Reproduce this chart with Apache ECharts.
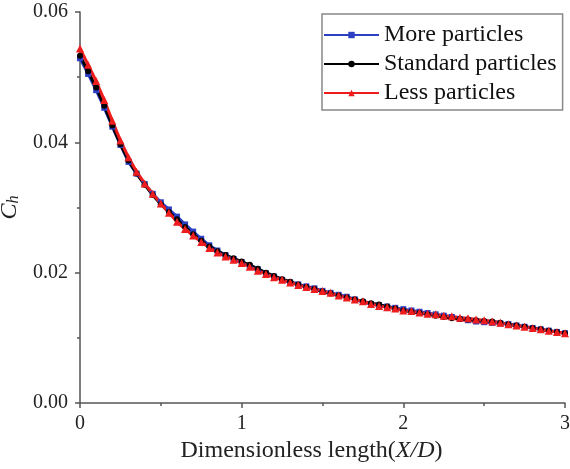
<!DOCTYPE html>
<html><head><meta charset="utf-8">
<script src="https://cdn.jsdelivr.net/npm/echarts@6/dist/echarts.min.js"></script>
<style>html,body{margin:0;padding:0;background:#fff}#c{width:570px;height:469px}</style>
</head><body><div id="c"></div>
<script>
const xs = [0.00,0.05,0.10,0.15,0.20,0.25,0.30,0.35,0.40,0.45,0.50,0.55,0.60,0.65,0.70,0.75,0.80,0.85,0.90,0.95,
1.00,1.05,1.10,1.15,1.20,1.25,1.30,1.35,1.40,1.45,1.50,1.55,1.60,1.65,1.70,1.75,1.80,1.85,1.90,1.95,
2.00,2.05,2.10,2.15,2.20,2.25,2.30,2.35,2.40,2.45,2.50,2.55,2.60,2.65,2.70,2.75,2.80,2.85,2.90,2.95,3.00];
const moreParticles = [0.0529,0.0505,0.0480,0.0453,0.0424,0.0396,0.0370,0.0352,0.0336,0.0321,0.0308,0.0297,0.0286,0.0274,0.0263,0.0252,0.0242,0.0234,0.0227,0.0221,
0.0216,0.0210,0.0205,0.0199,0.0194,0.0189,0.0185,0.0182,0.0179,0.0176,0.0172,0.0169,0.0166,0.0163,0.0159,0.0155,0.0152,0.0150,0.0148,0.0146,
0.0144,0.0142,0.0140,0.0138,0.0136,0.0134,0.0132,0.0129,0.0127,0.0125,0.0124,0.0123,0.0122,0.0121,0.0119,0.0117,0.0115,0.0113,0.0111,0.0109,0.0107];
const standardParticles = [0.0533,0.0509,0.0484,0.0456,0.0426,0.0397,0.0372,0.0352,0.0335,0.0319,0.0305,0.0293,0.0282,0.0270,0.0259,0.0249,0.0240,0.0233,0.0227,0.0222,
0.0217,0.0212,0.0206,0.0200,0.0195,0.0190,0.0186,0.0182,0.0178,0.0175,0.0171,0.0168,0.0165,0.0162,0.0159,0.0156,0.0153,0.0151,0.0148,0.0145,
0.0142,0.0140,0.0138,0.0136,0.0134,0.0132,0.0130,0.0129,0.0128,0.0127,0.0126,0.0125,0.0123,0.0121,0.0119,0.0117,0.0115,0.0113,0.0111,0.0109,0.0107];
const lessParticles = [0.0544,0.0519,0.0494,0.0465,0.0433,0.0403,0.0377,0.0355,0.0337,0.0321,0.0306,0.0292,0.0278,0.0267,0.0257,0.0247,0.0238,0.0231,0.0225,0.0220,
0.0215,0.0209,0.0203,0.0198,0.0193,0.0189,0.0185,0.0181,0.0178,0.0175,0.0172,0.0169,0.0165,0.0162,0.0159,0.0156,0.0152,0.0149,0.0147,0.0145,
0.0142,0.0141,0.0139,0.0137,0.0136,0.0134,0.0133,0.0131,0.0130,0.0128,0.0127,0.0125,0.0123,0.0121,0.0119,0.0117,0.0115,0.0113,0.0111,0.0109,0.0107];
const seriesNames = ['More particles','Standard particles','Less particles'];

const pair = arr => xs.map((x,i)=>[x,arr[i]]);
const FONT = '"Liberation Serif","Times New Roman",serif';
const chart = echarts.init(document.getElementById('c'));
const axisCol = '#555';
chart.setOption({
  animation:false,
  backgroundColor:'#fff',
  grid:{left:80,right:5,top:12,bottom:66,outerBoundsMode:'none',containLabel:false},
  legend:{
    orient:'vertical', left:322, top:14,
    data:seriesNames,
    itemWidth:55, itemHeight:8, itemGap:5,
    padding:[9,6,5,1],
    borderColor:'#888', borderWidth:1.5,
    textStyle:{fontFamily:FONT,fontSize:24,color:'#111',padding:[0,0,0,0]}
  },
  xAxis:{
    type:'value', min:0, max:3, interval:1,
    name:'Dimensionless length({i|X/D})',
    nameLocation:'middle', nameGap:31,
    nameTextStyle:{fontFamily:FONT,fontSize:24,color:'#222',padding:[0,22,0,0],
      rich:{i:{fontFamily:FONT,fontSize:24,fontStyle:'italic',color:'#222'}}},
    axisLine:{lineStyle:{color:axisCol,width:1.5}},
    axisTick:{inside:false,length:5,lineStyle:{color:axisCol,width:1.5}},
    minorTick:{show:true,splitNumber:2,length:3,lineStyle:{color:axisCol,width:1.5}},
    axisLabel:{fontFamily:FONT,fontSize:20,color:'#222',margin:11},
    splitLine:{show:false}
  },
  yAxis:{
    type:'value', min:0, max:0.06, interval:0.02,
    name:'{i|C}{s|h}',
    nameLocation:'middle', nameGap:47, nameRotate:90,
    nameTextStyle:{rich:{
      i:{fontFamily:FONT,fontSize:24,fontStyle:'italic',color:'#222'},
      s:{fontFamily:FONT,fontSize:16,fontStyle:'italic',color:'#222',verticalAlign:'bottom',padding:[9,0,0,0]}
    }},
    axisLine:{show:true,lineStyle:{color:axisCol,width:1.5}},
    axisTick:{show:true,inside:false,length:5,lineStyle:{color:axisCol,width:1.5}},
    minorTick:{show:true,splitNumber:2,length:3,lineStyle:{color:axisCol,width:1.5}},
    axisLabel:{fontFamily:FONT,fontSize:20,color:'#222',margin:12,formatter:v=>v.toFixed(2)},
    splitLine:{show:false}
  },
  series:[
    {name:seriesNames[0],type:'line',data:pair(moreParticles),symbol:'rect',symbolSize:6,
     lineStyle:{color:'#2b3fc4',width:3},itemStyle:{color:'#2b3fc4'}},
    {name:seriesNames[1],type:'line',data:pair(standardParticles),symbol:'circle',symbolSize:6,
     lineStyle:{color:'#000',width:3},itemStyle:{color:'#000'}},
    {name:seriesNames[2],type:'line',data:pair(lessParticles),symbol:'triangle',symbolSize:8,
     lineStyle:{color:'#ee1c1c',width:3},itemStyle:{color:'#ee1c1c'}}
  ]
});
</script></body></html>
